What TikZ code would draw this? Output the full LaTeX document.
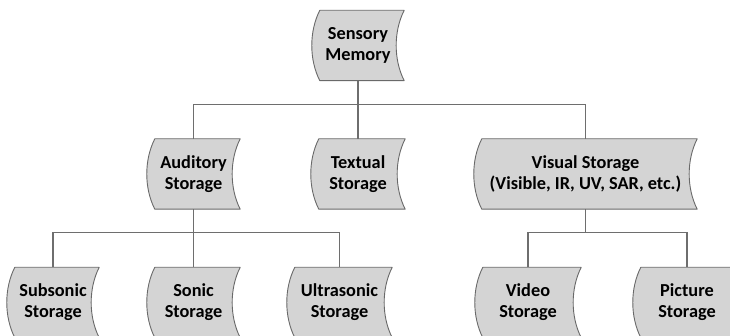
\documentclass[tikz,border=0pt]{standalone}
\usepackage{fontspec}
\setmainfont{Carlito}
\usetikzlibrary{backgrounds,calc}
\definecolor{boxfill}{RGB}{212,212,212}
\definecolor{boxline}{RGB}{105,105,105}
\definecolor{wire}{RGB}{110,110,110}
\newcommand{\bulge}{8}
\tikzset{
  store/.style={rectangle, draw=none, inner sep=0pt, minimum height=70pt,
    align=center, text=black,
    font=\bfseries\fontsize{18.3}{21}\selectfont},
  storeline/.style={draw=boxline, fill=boxfill, line width=0.9pt, line join=round},
  wireline/.style={draw=wire, line width=1.1pt}
}
\begin{document}
\begin{tikzpicture}[x=1pt,y=-1pt]
\useasboundingbox (0,0) rectangle (730,336);

% level 0
\node[store, minimum width=92pt] (sm)  at (358,45.5)   {Sensory\\Memory};
% level 1
\node[store, minimum width=93pt]  (aud) at (193.5,174) {Auditory\\Storage};
\node[store, minimum width=94pt]  (txt) at (358,174)   {Textual\\Storage};
\node[store, minimum width=223pt] (vis) at (585.5,174) {Visual Storage\\(Visible, IR, UV, SAR, etc.)};
% level 2
\node[store, minimum width=92pt]  (sub) at (53,302.5)    {Subsonic\\Storage};
\node[store, minimum width=93pt]  (son) at (193.5,302.5) {Sonic\\Storage};
\node[store, minimum width=105pt] (ult) at (339.5,302.5) {Ultrasonic\\Storage};
\node[store, minimum width=106pt] (vid) at (528,302.5)   {Video\\Storage};
\node[store, minimum width=108pt] (pic) at (687,302.5)   {Picture\\Storage};

% stored-data outlines behind the labels
\begin{scope}[on background layer]
\foreach \n in {sm,aud,txt,vis,sub,son,ult,vid,pic}{
  \path[storeline]
    ($(\n.north west)+(\bulge,0)$) -- (\n.north east)
    .. controls ($(\n.north east)+(-10.7,21)$) and ($(\n.south east)+(-10.7,-21)$) .. (\n.south east)
    -- ($(\n.south west)+(\bulge,0)$)
    .. controls ($(\n.south west)+(\bulge-10.7,-21)$) and ($(\n.north west)+(\bulge-10.7,21)$) .. cycle;
}
\end{scope}

% tree connectors
\foreach \c in {aud,txt,vis}{
  \draw[wireline] (sm.south) -- ++(0,23.5) -| (\c.north);
}
\foreach \c in {sub,son,ult}{
  \draw[wireline] (aud.south) -- ++(0,23.5) -| (\c.north);
}
\foreach \c in {vid,pic}{
  \draw[wireline] (vis.south) -- ++(0,23.5) -| (\c.north);
}
\end{tikzpicture}
\end{document}
